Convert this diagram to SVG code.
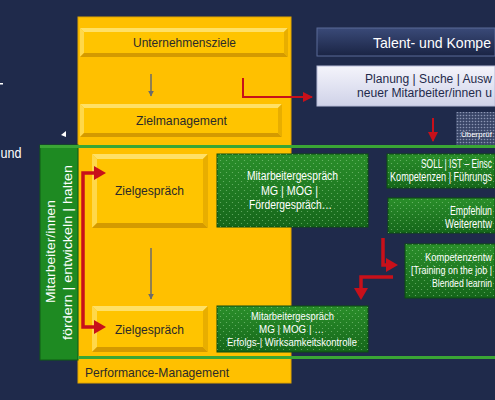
<svg xmlns="http://www.w3.org/2000/svg" width="495" height="400" viewBox="0 0 495 400">
<defs>
<pattern id="dots" width="6" height="6" patternUnits="userSpaceOnUse">
<circle cx="1.5" cy="1.5" r="0.6" fill="#9fd89a" fill-opacity="0.6"/>
<circle cx="4.5" cy="4.5" r="0.6" fill="#9fd89a" fill-opacity="0.6"/>
</pattern>
<pattern id="gdots" width="3" height="3" patternUnits="userSpaceOnUse">
<rect width="3" height="3" fill="#3a4668"/>
<circle cx="1.5" cy="1.5" r="0.8" fill="#8c96b4"/>
</pattern>
<linearGradient id="gbox" x1="0" y1="0" x2="0" y2="1">
<stop offset="0" stop-color="#2a8f2a"/>
<stop offset="1" stop-color="#15661a"/>
</linearGradient>
<linearGradient id="navyBar" x1="0" y1="0" x2="0" y2="1">
<stop offset="0" stop-color="#3a4a78"/>
<stop offset="1" stop-color="#1a2444"/>
</linearGradient>
<linearGradient id="lav" x1="0" y1="0" x2="0" y2="1">
<stop offset="0" stop-color="#f4f4fb"/>
<stop offset="1" stop-color="#cfd2e8"/>
</linearGradient>
<marker id="redHeadThin" viewBox="0 0 10 10" refX="9" refY="5" markerWidth="5" markerHeight="5" orient="auto" markerUnits="strokeWidth">
<path d="M0,0 L10,5 L0,10 Z" fill="#c8101a"/>
</marker>
<marker id="grayHead" viewBox="0 0 10 10" refX="9" refY="5" markerWidth="4" markerHeight="4" orient="auto" markerUnits="strokeWidth">
<path d="M0,0 L10,5 L0,10 Z" fill="#6b6b6b"/>
</marker>
</defs>
<style>
text{font-family:"Liberation Sans",Arial,sans-serif}
.dark{fill:#2a2a2a;font-size:13.5px}
.w{fill:#ffffff;font-size:12px}
.ws{fill:#ffffff;font-size:10.5px}
.wl{fill:#ffffff;font-size:12px}
.wk{fill:#ffffff;font-size:11px}
.ybar{fill:#ffc400}
.yhi{fill:#ffe066}
.yside{fill:#ffd84a}
.ylo{fill:#d49a00}
.gb{fill:url(#gbox);stroke:#0d4d12;stroke-width:1}
.red{fill:none;stroke:#c8101a;stroke-width:2}
.red3{fill:none;stroke:#c8101a;stroke-width:3.5}
.gray{fill:none;stroke:#6b6b6b;stroke-width:1.5}
</style>
<rect width="495" height="400" fill="#1f2a4b"/>

<!-- stray fragments on left -->
<rect x="0" y="83" width="3" height="1.5" fill="#ffffff"/>
<polygon points="61,135 66,131 66,137" fill="#ffffff"/>
<text x="0.5" y="158" fill="#ffffff" font-size="15" textLength="21" lengthAdjust="spacingAndGlyphs">und</text>

<g id="performance-management">
<rect x="78" y="17" width="213" height="366" fill="#ffc000" stroke="#e0a400" stroke-width="1"/>
<text x="85" y="377" class="dark" textLength="144" lengthAdjust="spacingAndGlyphs">Performance-Management</text>
</g>

<g id="frame">
<rect x="40" y="145" width="38" height="215" fill="#1e8a22" stroke="#0f5a14" stroke-width="1"/>
<rect x="40" y="145" width="455" height="3" fill="#3aa635"/>
<rect x="78" y="356" width="417" height="3" fill="#3aa635"/>
<text transform="translate(55,303) rotate(-90)" fill="#ffffff" font-size="13.5" textLength="103" lengthAdjust="spacingAndGlyphs">Mitarbeiter/innen</text>
<text transform="translate(72,340) rotate(-90)" fill="#ffffff" font-size="13.5" textLength="175" lengthAdjust="spacingAndGlyphs">fördern | entwickeln | halten</text>
</g>

<g id="unternehmensziele">
<rect x="80" y="28" width="208" height="29" class="ybar"/>
<polygon points="80,28 288,28 284,32 84,32" class="yhi"/>
<polygon points="80,28 84,32 84,53 80,57" class="yside"/>
<polygon points="80,57 84,53 284,53 288,57" class="ylo"/>
<polygon points="288,28 288,57 284,53 284,32" fill="#e8ae00"/>
<text x="133" y="47" class="dark" textLength="103" lengthAdjust="spacingAndGlyphs">Unternehmensziele</text>
</g>

<g id="zielmanagement">
<rect x="80" y="104" width="202" height="33" class="ybar"/>
<polygon points="80,104 282,104 278,108 84,108" class="yhi"/>
<polygon points="80,104 84,108 84,133 80,137" class="yside"/>
<polygon points="80,137 84,133 278,133 282,137" class="ylo"/>
<polygon points="282,104 282,137 278,133 278,108" fill="#e8ae00"/>
<text x="136" y="125" class="dark" textLength="91" lengthAdjust="spacingAndGlyphs">Zielmanagement</text>
</g>

<g id="zielgespraech1">
<rect x="92" y="154" width="116" height="74" class="ybar"/>
<polygon points="92,154 208,154 203,159 97,159" class="yhi"/>
<polygon points="92,154 97,159 97,223 92,228" class="yside"/>
<polygon points="92,228 97,223 203,223 208,228" class="ylo"/>
<polygon points="208,154 208,228 203,223 203,159" fill="#e8ae00"/>
<text x="115" y="195" class="dark" textLength="69" lengthAdjust="spacingAndGlyphs">Zielgespräch</text>
</g>

<g id="zielgespraech2">
<rect x="92" y="306" width="116" height="46" class="ybar"/>
<polygon points="92,306 208,306 203,311 97,311" class="yhi"/>
<polygon points="92,306 97,311 97,347 92,352" class="yside"/>
<polygon points="92,352 97,347 203,347 208,352" class="ylo"/>
<polygon points="208,306 208,352 203,347 203,311" fill="#e8ae00"/>
<text x="115" y="334" class="dark" textLength="69" lengthAdjust="spacingAndGlyphs">Zielgespräch</text>
</g>

<g id="mg1">
<rect x="217" y="154" width="151" height="73" class="gb"/>
<rect x="217" y="154" width="151" height="73" fill="url(#dots)"/>
<text x="247" y="180" class="w" textLength="91" lengthAdjust="spacingAndGlyphs">Mitarbeitergespräch</text>
<text x="261" y="195" class="w" textLength="57" lengthAdjust="spacingAndGlyphs">MG | MOG |</text>
<text x="249" y="209" class="w" textLength="83" lengthAdjust="spacingAndGlyphs">Fördergespräch…</text>
</g>

<g id="mg2">
<rect x="217" y="306" width="151" height="46" class="gb"/>
<rect x="217" y="306" width="151" height="46" fill="url(#dots)"/>
<text x="251" y="320" class="ws" textLength="83" lengthAdjust="spacingAndGlyphs">Mitarbeitergespräch</text>
<text x="259" y="333" class="ws" textLength="65" lengthAdjust="spacingAndGlyphs">MG | MOG | …</text>
<text x="227" y="346" class="ws" textLength="130" lengthAdjust="spacingAndGlyphs">Erfolgs-| Wirksamkeitskontrolle</text>
</g>

<g id="talent">
<rect x="317" y="28" width="178" height="28" fill="url(#navyBar)" stroke="#5a6a98" stroke-width="1"/>
<text x="373" y="48" fill="#ffffff" font-size="15" textLength="118" lengthAdjust="spacingAndGlyphs">Talent- und Kompe</text>
</g>

<g id="planung">
<rect x="317" y="66" width="178" height="40" fill="url(#lav)" stroke="#b8bcd8" stroke-width="1"/>
<text x="365" y="83" fill="#1f2a4b" font-size="12.5" textLength="127" lengthAdjust="spacingAndGlyphs">Planung | Suche | Ausw</text>
<text x="357" y="97" fill="#1f2a4b" font-size="12.5" textLength="135" lengthAdjust="spacingAndGlyphs">neuer Mitarbeiter/innen u</text>
</g>

<g id="ueberpruef">
<rect x="456" y="112" width="39" height="33" fill="url(#gdots)"/>
<text x="461" y="137" fill="#ffffff" font-size="8" textLength="31" lengthAdjust="spacingAndGlyphs">Überprüf</text>
</g>

<g id="soll">
<rect x="387" y="154" width="108" height="34" class="gb"/>
<rect x="387" y="154" width="108" height="34" fill="url(#dots)"/>
<text x="421" y="168" class="wl" textLength="71" lengthAdjust="spacingAndGlyphs">SOLL | IST – Einsc</text>
<text x="390" y="181" class="wl" textLength="102" lengthAdjust="spacingAndGlyphs">Kompetenzen | Führungs</text>
</g>

<g id="empfehlung">
<rect x="388" y="198" width="107" height="35" class="gb"/>
<rect x="388" y="198" width="107" height="35" fill="url(#dots)"/>
<text x="450" y="215" class="wl" textLength="42" lengthAdjust="spacingAndGlyphs">Empfehlun</text>
<text x="445" y="228" class="wl" textLength="47" lengthAdjust="spacingAndGlyphs">Weiterentw</text>
</g>

<g id="kompetenz">
<rect x="405" y="244" width="90" height="54" class="gb"/>
<rect x="405" y="244" width="90" height="54" fill="url(#dots)"/>
<text x="425" y="261" class="wk" textLength="67" lengthAdjust="spacingAndGlyphs">Kompetenzentw</text>
<text x="411" y="274" class="wk" textLength="81" lengthAdjust="spacingAndGlyphs">[Training on the job |</text>
<text x="432" y="287" class="wk" textLength="60" lengthAdjust="spacingAndGlyphs">Blended learnin</text>
</g>

<g id="connectors">
<path d="M151,74 V96" class="gray" marker-end="url(#grayHead)"/>
<path d="M151,248 V299" class="gray" marker-end="url(#grayHead)"/>
<path d="M243,78 V97 H312" class="red" marker-end="url(#redHeadThin)"/>
<path d="M433,118 V141" class="red" marker-end="url(#redHeadThin)"/>
<path d="M96,173 H83 V327 H96" class="red3"/>
<polygon points="94,166 106,173 94,180" fill="#c8101a"/>
<polygon points="94,320 106,327 94,334" fill="#c8101a"/>
<path d="M383,238 V265 H388" class="red3"/>
<polygon points="386,258 398,265 386,272" fill="#c8101a"/>
<path d="M393,277 H361 V290" class="red3"/>
<polygon points="354,288 368,288 361,300" fill="#c8101a"/>
</g>
</svg>
